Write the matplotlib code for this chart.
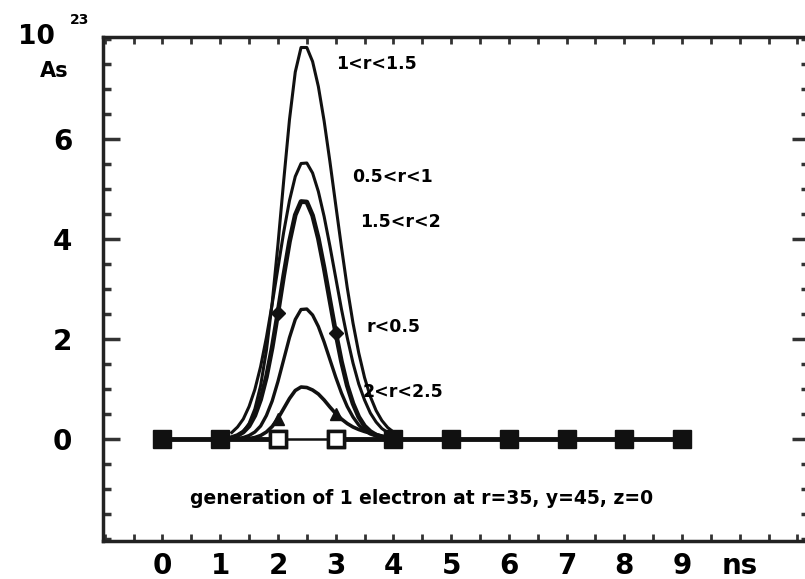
import numpy as np
import matplotlib
matplotlib.use('Agg')
import matplotlib.pyplot as plt
from matplotlib.ticker import MultipleLocator, FixedLocator

plt.rcParams['font.family'] = ['DejaVu Sans']

# time grid of the pulses (ns)
time = np.round(np.arange(1.2, 4.11, 0.1), 1)

# values in units of 10^23 As
r_1_15 = [0.03, 0.07, 0.15, 0.31, 0.60, 1.07, 1.77, 2.72, 3.89, 5.17, 6.39, 7.34, 7.83,
          7.83, 7.55, 7.05, 6.36, 5.55, 4.69, 3.84, 3.03, 2.32, 1.72, 1.23, 0.85, 0.57,
          0.37, 0.23, 0.14, 0.08]
r_05_1 = [0.13, 0.24, 0.40, 0.65, 0.99, 1.45, 2.03, 2.70, 3.42, 4.14, 4.77, 5.25, 5.51,
          5.52, 5.32, 4.95, 4.45, 3.86, 3.23, 2.60, 2.03, 1.52, 1.10, 0.78, 0.52, 0.34,
          0.21, 0.13, 0.08, 0.04]
r_15_2 = [0.03, 0.07, 0.14, 0.26, 0.47, 0.79, 1.24, 1.83, 2.53, 3.27, 3.95, 4.48, 4.75,
          4.74, 4.47, 4.01, 3.42, 2.77, 2.13, 1.55, 1.07, 0.71, 0.44, 0.26, 0.15, 0.08,
          0.04, 0.02, 0.01, 0.00]
r_0_05 = [0.00, 0.01, 0.03, 0.07, 0.14, 0.26, 0.47, 0.76, 1.15, 1.59, 2.03, 2.39, 2.59,
          2.60, 2.48, 2.25, 1.94, 1.59, 1.24, 0.92, 0.65, 0.44, 0.28, 0.17, 0.10, 0.06,
          0.03, 0.01, 0.01, 0.00]
r_2_25 = [0.00, 0.00, 0.00, 0.01, 0.03, 0.07, 0.14, 0.25, 0.41, 0.61, 0.81, 0.97, 1.04,
          1.03, 0.98, 0.90, 0.78, 0.64, 0.51, 0.40, 0.31, 0.24, 0.19, 0.15, 0.12, 0.09,
          0.06, 0.04, 0.02, 0.01]

# nodes of the coarse series (ns)
nodes = [0, 1, 2, 3, 4, 5, 6, 7, 8, 9]
node_vals = [0, 0, 0, 0, 0, 0, 0, 0, 0, 0]

x_ticks = [0, 1, 2, 3, 4, 5, 6, 7, 8, 9, 10]
x_labels = ['0', '1', '2', '3', '4', '5', '6', '7', '8', '9', 'ns']
y_ticks = [0, 2, 4, 6]

fig = plt.figure(figsize=(8.05, 5.79), dpi=100)
ax = fig.add_axes([0.128, 0.0656, 0.877, 0.8705])

ink = '#111111'
ax.plot(time, r_1_15, color=ink, lw=2.2)
ax.plot(time, r_05_1, color=ink, lw=2.2)
ax.plot(time, r_0_05, color=ink, lw=2.4)
ax.plot(time, r_15_2, color=ink, lw=3.4, marker='D', ms=7, markevery=[8, 18])
ax.plot(time, r_2_25, color=ink, lw=2.6, marker='^', ms=8, markevery=[8, 18])

# zero line with square markers; thin segment and open squares at 2 and 3
ax.plot(nodes[:3], node_vals[:3], color=ink, lw=3.5, marker='s', ms=13, zorder=5)
ax.plot(nodes[3:], node_vals[3:], color=ink, lw=3.5, marker='s', ms=13, zorder=5)
ax.plot(nodes[2:4], node_vals[2:4], color=ink, lw=1.8, marker='s', ms=12,
        mfc='white', mec=ink, mew=2.5, zorder=6)

ax.set_xlim(-1.03, 11.2)
ax.set_ylim(-2.04, 8.04)

ax.xaxis.set_major_locator(FixedLocator(x_ticks))
ax.set_xticklabels(x_labels)
ax.xaxis.set_minor_locator(MultipleLocator(0.5))
ax.yaxis.set_major_locator(FixedLocator(y_ticks))
ax.yaxis.set_minor_locator(MultipleLocator(0.5))

ax.tick_params(axis='x', which='both', direction='in', top=True, length=5,
               width=2, color='#333333', labelsize=20, pad=8)
ax.tick_params(axis='y', which='major', direction='in', right=True, length=12,
               width=2.5, color='#333333', labelsize=20, pad=22)
ax.tick_params(axis='y', which='minor', direction='in', right=True, length=6,
               width=2.5, color='#333333')
for lab in ax.get_xticklabels() + ax.get_yticklabels():
    lab.set_fontweight('bold')

for s in ax.spines.values():
    s.set_linewidth(2.5)
    s.set_color('#222222')
ax.spines['right'].set_visible(False)

# unit labels
fig.text(55 / 805, 1 - 37 / 579, '10', fontsize=19, fontweight='bold', ha='right', va='center')
fig.text(70 / 805, 1 - 20 / 579, '23', fontsize=10, fontweight='bold', ha='left', va='center')
fig.text(54 / 805, 1 - 71 / 579, 'As', fontsize=15, fontweight='bold', ha='center', va='center')

lab_kw = dict(fontsize=12.5, fontweight='bold', ha='center', va='center')
ax.text(3.70, 7.50, '1<r<1.5', **lab_kw)
ax.text(3.98, 5.24, '0.5<r<1', **lab_kw)
ax.text(4.12, 4.34, '1.5<r<2', **lab_kw)
ax.text(4.00, 2.24, 'r<0.5', **lab_kw)
ax.text(4.17, 0.94, '2<r<2.5', **lab_kw)
ax.text(4.48, -1.18, 'generation of 1 electron at r=35, y=45, z=0',
        fontsize=13.5, fontweight='bold', ha='center', va='center')

fig.savefig('out.png', dpi=100)
